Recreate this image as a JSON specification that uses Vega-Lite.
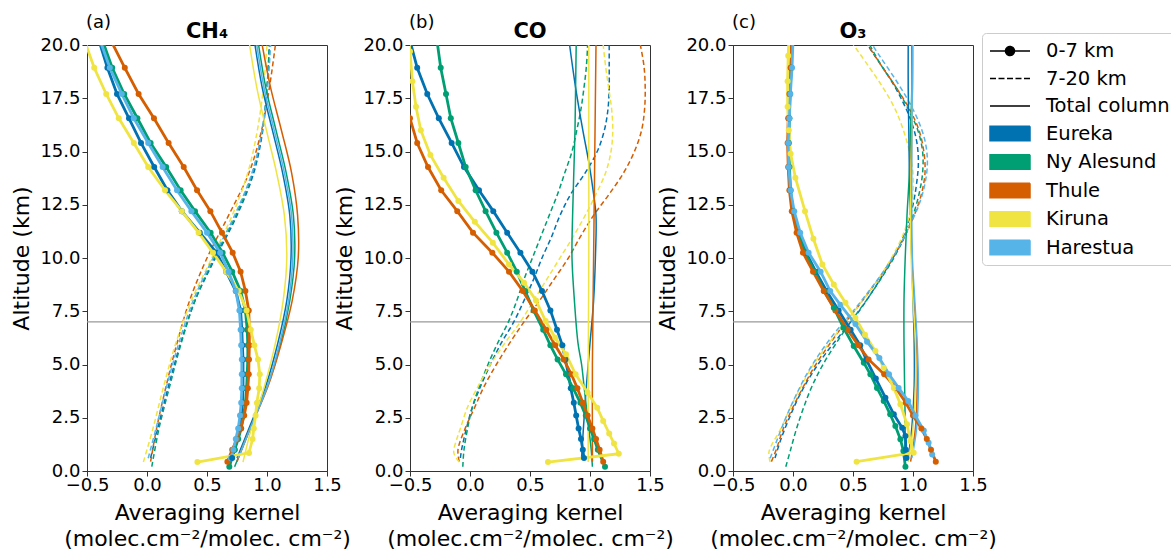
{
"$schema":"https://vega.github.io/schema/vega-lite/v6.json",
"padding":{"left":10,"top":13,"right":0,"bottom":0},
"background":"white",
"spacing":83,
"bounds":"flush",
"config":{
 "font":"DejaVu Sans",
 "view":{"stroke":"#333333","strokeWidth":1},
 "axis":{"labelFontSize":18,"labelColor":"#000000","titleFontSize":22,"titleFontWeight":"normal","titleColor":"#000000","domainColor":"#333333","tickColor":"#333333","tickSize":5,"grid":false,"labelPadding":0,"titleLineHeight":26,"labelFlush":false,"labelOverlap":false},
 "axisX":{"titlePadding":8},
 "axisY":{"titlePadding":6,"labelPadding":2}
},
"datasets":{"d":[
{"p":"a","s":"Eureka","t":"L","a":0.61,"v":0.71},{"p":"a","s":"Eureka","t":"L","a":1.0,"v":0.73},{"p":"a","s":"Eureka","t":"L","a":1.5,"v":0.75},{"p":"a","s":"Eureka","t":"L","a":2.0,"v":0.77},{"p":"a","s":"Eureka","t":"L","a":2.6,"v":0.785},{"p":"a","s":"Eureka","t":"L","a":3.2,"v":0.795},{"p":"a","s":"Eureka","t":"L","a":3.88,"v":0.8},{"p":"a","s":"Eureka","t":"L","a":4.54,"v":0.8},{"p":"a","s":"Eureka","t":"L","a":5.24,"v":0.8},{"p":"a","s":"Eureka","t":"L","a":5.9,"v":0.795},{"p":"a","s":"Eureka","t":"L","a":6.63,"v":0.79},{"p":"a","s":"Eureka","t":"L","a":7.54,"v":0.78},{"p":"a","s":"Eureka","t":"L","a":8.45,"v":0.74},{"p":"a","s":"Eureka","t":"L","a":9.36,"v":0.66},{"p":"a","s":"Eureka","t":"L","a":10.25,"v":0.58},{"p":"a","s":"Eureka","t":"L","a":11.19,"v":0.44},{"p":"a","s":"Eureka","t":"L","a":12.2,"v":0.29},{"p":"a","s":"Eureka","t":"L","a":13.18,"v":0.17},{"p":"a","s":"Eureka","t":"L","a":14.27,"v":0.06},{"p":"a","s":"Eureka","t":"L","a":15.4,"v":-0.05},{"p":"a","s":"Eureka","t":"L","a":16.56,"v":-0.15},{"p":"a","s":"Eureka","t":"L","a":17.7,"v":-0.25},{"p":"a","s":"Eureka","t":"L","a":18.93,"v":-0.33},{"p":"a","s":"Eureka","t":"L","a":20.2,"v":-0.4},
{"p":"a","s":"Ny Alesund","t":"L","a":0.2,"v":0.686},{"p":"a","s":"Ny Alesund","t":"L","a":1.0,"v":0.73},{"p":"a","s":"Ny Alesund","t":"L","a":1.5,"v":0.76},{"p":"a","s":"Ny Alesund","t":"L","a":2.0,"v":0.785},{"p":"a","s":"Ny Alesund","t":"L","a":2.6,"v":0.805},{"p":"a","s":"Ny Alesund","t":"L","a":3.2,"v":0.82},{"p":"a","s":"Ny Alesund","t":"L","a":3.88,"v":0.83},{"p":"a","s":"Ny Alesund","t":"L","a":4.54,"v":0.835},{"p":"a","s":"Ny Alesund","t":"L","a":5.24,"v":0.84},{"p":"a","s":"Ny Alesund","t":"L","a":5.9,"v":0.84},{"p":"a","s":"Ny Alesund","t":"L","a":6.63,"v":0.835},{"p":"a","s":"Ny Alesund","t":"L","a":7.54,"v":0.82},{"p":"a","s":"Ny Alesund","t":"L","a":8.45,"v":0.78},{"p":"a","s":"Ny Alesund","t":"L","a":9.36,"v":0.71},{"p":"a","s":"Ny Alesund","t":"L","a":10.25,"v":0.63},{"p":"a","s":"Ny Alesund","t":"L","a":11.19,"v":0.53},{"p":"a","s":"Ny Alesund","t":"L","a":12.2,"v":0.4},{"p":"a","s":"Ny Alesund","t":"L","a":13.18,"v":0.28},{"p":"a","s":"Ny Alesund","t":"L","a":14.27,"v":0.16},{"p":"a","s":"Ny Alesund","t":"L","a":15.4,"v":0.03},{"p":"a","s":"Ny Alesund","t":"L","a":16.56,"v":-0.08},{"p":"a","s":"Ny Alesund","t":"L","a":17.7,"v":-0.19},{"p":"a","s":"Ny Alesund","t":"L","a":18.93,"v":-0.29},{"p":"a","s":"Ny Alesund","t":"L","a":20.2,"v":-0.37},
{"p":"a","s":"Thule","t":"L","a":0.44,"v":0.67},{"p":"a","s":"Thule","t":"L","a":1.0,"v":0.71},{"p":"a","s":"Thule","t":"L","a":1.5,"v":0.75},{"p":"a","s":"Thule","t":"L","a":2.0,"v":0.78},{"p":"a","s":"Thule","t":"L","a":2.6,"v":0.81},{"p":"a","s":"Thule","t":"L","a":3.2,"v":0.83},{"p":"a","s":"Thule","t":"L","a":3.88,"v":0.84},{"p":"a","s":"Thule","t":"L","a":4.54,"v":0.848},{"p":"a","s":"Thule","t":"L","a":5.24,"v":0.85},{"p":"a","s":"Thule","t":"L","a":5.9,"v":0.853},{"p":"a","s":"Thule","t":"L","a":6.63,"v":0.853},{"p":"a","s":"Thule","t":"L","a":7.54,"v":0.848},{"p":"a","s":"Thule","t":"L","a":8.45,"v":0.82},{"p":"a","s":"Thule","t":"L","a":9.36,"v":0.78},{"p":"a","s":"Thule","t":"L","a":10.25,"v":0.714},{"p":"a","s":"Thule","t":"L","a":11.19,"v":0.625},{"p":"a","s":"Thule","t":"L","a":12.2,"v":0.528},{"p":"a","s":"Thule","t":"L","a":13.18,"v":0.417},{"p":"a","s":"Thule","t":"L","a":14.27,"v":0.306},{"p":"a","s":"Thule","t":"L","a":15.4,"v":0.18},{"p":"a","s":"Thule","t":"L","a":16.56,"v":0.058},{"p":"a","s":"Thule","t":"L","a":17.7,"v":-0.07},{"p":"a","s":"Thule","t":"L","a":18.93,"v":-0.185},{"p":"a","s":"Thule","t":"L","a":20.2,"v":-0.3},
{"p":"a","s":"Kiruna","t":"L","a":0.42,"v":0.42},{"p":"a","s":"Kiruna","t":"L","a":0.85,"v":0.85},{"p":"a","s":"Kiruna","t":"L","a":1.5,"v":0.88},{"p":"a","s":"Kiruna","t":"L","a":2.0,"v":0.89},{"p":"a","s":"Kiruna","t":"L","a":2.6,"v":0.905},{"p":"a","s":"Kiruna","t":"L","a":3.2,"v":0.915},{"p":"a","s":"Kiruna","t":"L","a":3.88,"v":0.935},{"p":"a","s":"Kiruna","t":"L","a":4.54,"v":0.94},{"p":"a","s":"Kiruna","t":"L","a":5.24,"v":0.925},{"p":"a","s":"Kiruna","t":"L","a":5.9,"v":0.895},{"p":"a","s":"Kiruna","t":"L","a":6.63,"v":0.865},{"p":"a","s":"Kiruna","t":"L","a":7.54,"v":0.83},{"p":"a","s":"Kiruna","t":"L","a":8.45,"v":0.764},{"p":"a","s":"Kiruna","t":"L","a":9.36,"v":0.66},{"p":"a","s":"Kiruna","t":"L","a":10.25,"v":0.55},{"p":"a","s":"Kiruna","t":"L","a":11.19,"v":0.43},{"p":"a","s":"Kiruna","t":"L","a":12.2,"v":0.29},{"p":"a","s":"Kiruna","t":"L","a":13.18,"v":0.15},{"p":"a","s":"Kiruna","t":"L","a":14.27,"v":0.01},{"p":"a","s":"Kiruna","t":"L","a":15.4,"v":-0.11},{"p":"a","s":"Kiruna","t":"L","a":16.56,"v":-0.235},{"p":"a","s":"Kiruna","t":"L","a":17.7,"v":-0.34},{"p":"a","s":"Kiruna","t":"L","a":18.93,"v":-0.44},{"p":"a","s":"Kiruna","t":"L","a":20.2,"v":-0.52},
{"p":"a","s":"Harestua","t":"L","a":0.6,"v":0.7},{"p":"a","s":"Harestua","t":"L","a":1.0,"v":0.72},{"p":"a","s":"Harestua","t":"L","a":1.5,"v":0.74},{"p":"a","s":"Harestua","t":"L","a":2.0,"v":0.76},{"p":"a","s":"Harestua","t":"L","a":2.6,"v":0.775},{"p":"a","s":"Harestua","t":"L","a":3.2,"v":0.785},{"p":"a","s":"Harestua","t":"L","a":3.88,"v":0.79},{"p":"a","s":"Harestua","t":"L","a":4.54,"v":0.79},{"p":"a","s":"Harestua","t":"L","a":5.24,"v":0.79},{"p":"a","s":"Harestua","t":"L","a":5.9,"v":0.785},{"p":"a","s":"Harestua","t":"L","a":6.63,"v":0.78},{"p":"a","s":"Harestua","t":"L","a":7.54,"v":0.77},{"p":"a","s":"Harestua","t":"L","a":8.45,"v":0.74},{"p":"a","s":"Harestua","t":"L","a":9.36,"v":0.68},{"p":"a","s":"Harestua","t":"L","a":10.25,"v":0.61},{"p":"a","s":"Harestua","t":"L","a":11.19,"v":0.5},{"p":"a","s":"Harestua","t":"L","a":12.2,"v":0.37},{"p":"a","s":"Harestua","t":"L","a":13.18,"v":0.25},{"p":"a","s":"Harestua","t":"L","a":14.27,"v":0.13},{"p":"a","s":"Harestua","t":"L","a":15.4,"v":0.01},{"p":"a","s":"Harestua","t":"L","a":16.56,"v":-0.11},{"p":"a","s":"Harestua","t":"L","a":17.7,"v":-0.21},{"p":"a","s":"Harestua","t":"L","a":18.93,"v":-0.31},{"p":"a","s":"Harestua","t":"L","a":20.2,"v":-0.39},
{"p":"a","s":"Eureka","t":"H","a":0.61,"v":0.03},{"p":"a","s":"Eureka","t":"H","a":2,"v":0.09},{"p":"a","s":"Eureka","t":"H","a":4,"v":0.18},{"p":"a","s":"Eureka","t":"H","a":6,"v":0.28},{"p":"a","s":"Eureka","t":"H","a":8,"v":0.4},{"p":"a","s":"Eureka","t":"H","a":10,"v":0.57},{"p":"a","s":"Eureka","t":"H","a":12,"v":0.75},{"p":"a","s":"Eureka","t":"H","a":14,"v":0.89},{"p":"a","s":"Eureka","t":"H","a":16,"v":0.965},{"p":"a","s":"Eureka","t":"H","a":18,"v":1.0},{"p":"a","s":"Eureka","t":"H","a":20,"v":1.02},
{"p":"a","s":"Ny Alesund","t":"H","a":0.2,"v":0.04},{"p":"a","s":"Ny Alesund","t":"H","a":2,"v":0.1},{"p":"a","s":"Ny Alesund","t":"H","a":4,"v":0.19},{"p":"a","s":"Ny Alesund","t":"H","a":6,"v":0.285},{"p":"a","s":"Ny Alesund","t":"H","a":8,"v":0.4},{"p":"a","s":"Ny Alesund","t":"H","a":10,"v":0.56},{"p":"a","s":"Ny Alesund","t":"H","a":12,"v":0.74},{"p":"a","s":"Ny Alesund","t":"H","a":14,"v":0.88},{"p":"a","s":"Ny Alesund","t":"H","a":16,"v":0.96},{"p":"a","s":"Ny Alesund","t":"H","a":18,"v":1.0},{"p":"a","s":"Ny Alesund","t":"H","a":20,"v":1.02},
{"p":"a","s":"Thule","t":"H","a":0.44,"v":0.03},{"p":"a","s":"Thule","t":"H","a":2,"v":0.08},{"p":"a","s":"Thule","t":"H","a":4,"v":0.16},{"p":"a","s":"Thule","t":"H","a":6,"v":0.25},{"p":"a","s":"Thule","t":"H","a":8,"v":0.355},{"p":"a","s":"Thule","t":"H","a":10,"v":0.5},{"p":"a","s":"Thule","t":"H","a":12,"v":0.68},{"p":"a","s":"Thule","t":"H","a":14,"v":0.85},{"p":"a","s":"Thule","t":"H","a":16,"v":0.955},{"p":"a","s":"Thule","t":"H","a":18,"v":1.02},{"p":"a","s":"Thule","t":"H","a":20,"v":1.07},
{"p":"a","s":"Kiruna","t":"H","a":0.42,"v":-0.03},{"p":"a","s":"Kiruna","t":"H","a":2,"v":0.05},{"p":"a","s":"Kiruna","t":"H","a":4,"v":0.14},{"p":"a","s":"Kiruna","t":"H","a":6,"v":0.24},{"p":"a","s":"Kiruna","t":"H","a":8,"v":0.37},{"p":"a","s":"Kiruna","t":"H","a":10,"v":0.54},{"p":"a","s":"Kiruna","t":"H","a":12,"v":0.71},{"p":"a","s":"Kiruna","t":"H","a":14,"v":0.84},{"p":"a","s":"Kiruna","t":"H","a":16,"v":0.92},{"p":"a","s":"Kiruna","t":"H","a":18,"v":0.97},{"p":"a","s":"Kiruna","t":"H","a":20,"v":1.0},
{"p":"a","s":"Harestua","t":"H","a":0.6,"v":0.01},{"p":"a","s":"Harestua","t":"H","a":2,"v":0.075},{"p":"a","s":"Harestua","t":"H","a":4,"v":0.165},{"p":"a","s":"Harestua","t":"H","a":6,"v":0.265},{"p":"a","s":"Harestua","t":"H","a":8,"v":0.385},{"p":"a","s":"Harestua","t":"H","a":10,"v":0.55},{"p":"a","s":"Harestua","t":"H","a":12,"v":0.73},{"p":"a","s":"Harestua","t":"H","a":14,"v":0.875},{"p":"a","s":"Harestua","t":"H","a":16,"v":0.96},{"p":"a","s":"Harestua","t":"H","a":18,"v":1.005},{"p":"a","s":"Harestua","t":"H","a":20,"v":1.03},
{"p":"a","s":"Eureka","t":"T","a":0.61,"v":0.75},{"p":"a","s":"Eureka","t":"T","a":2,"v":0.85},{"p":"a","s":"Eureka","t":"T","a":4,"v":0.99},{"p":"a","s":"Eureka","t":"T","a":6,"v":1.09},{"p":"a","s":"Eureka","t":"T","a":8,"v":1.165},{"p":"a","s":"Eureka","t":"T","a":10,"v":1.2},{"p":"a","s":"Eureka","t":"T","a":12,"v":1.19},{"p":"a","s":"Eureka","t":"T","a":14,"v":1.13},{"p":"a","s":"Eureka","t":"T","a":16,"v":1.045},{"p":"a","s":"Eureka","t":"T","a":18,"v":0.96},{"p":"a","s":"Eureka","t":"T","a":20,"v":0.9},
{"p":"a","s":"Ny Alesund","t":"T","a":0.2,"v":0.73},{"p":"a","s":"Ny Alesund","t":"T","a":2,"v":0.86},{"p":"a","s":"Ny Alesund","t":"T","a":4,"v":1.005},{"p":"a","s":"Ny Alesund","t":"T","a":6,"v":1.115},{"p":"a","s":"Ny Alesund","t":"T","a":8,"v":1.19},{"p":"a","s":"Ny Alesund","t":"T","a":10,"v":1.23},{"p":"a","s":"Ny Alesund","t":"T","a":12,"v":1.22},{"p":"a","s":"Ny Alesund","t":"T","a":14,"v":1.16},{"p":"a","s":"Ny Alesund","t":"T","a":16,"v":1.075},{"p":"a","s":"Ny Alesund","t":"T","a":18,"v":0.99},{"p":"a","s":"Ny Alesund","t":"T","a":20,"v":0.93},
{"p":"a","s":"Thule","t":"T","a":0.44,"v":0.75},{"p":"a","s":"Thule","t":"T","a":2,"v":0.86},{"p":"a","s":"Thule","t":"T","a":4,"v":1.01},{"p":"a","s":"Thule","t":"T","a":6,"v":1.12},{"p":"a","s":"Thule","t":"T","a":8,"v":1.21},{"p":"a","s":"Thule","t":"T","a":10,"v":1.26},{"p":"a","s":"Thule","t":"T","a":12,"v":1.255},{"p":"a","s":"Thule","t":"T","a":14,"v":1.205},{"p":"a","s":"Thule","t":"T","a":16,"v":1.12},{"p":"a","s":"Thule","t":"T","a":18,"v":1.03},{"p":"a","s":"Thule","t":"T","a":20,"v":0.96},
{"p":"a","s":"Kiruna","t":"T","a":0.42,"v":0.8},{"p":"a","s":"Kiruna","t":"T","a":2,"v":0.87},{"p":"a","s":"Kiruna","t":"T","a":4,"v":0.98},{"p":"a","s":"Kiruna","t":"T","a":6,"v":1.07},{"p":"a","s":"Kiruna","t":"T","a":8,"v":1.135},{"p":"a","s":"Kiruna","t":"T","a":10,"v":1.165},{"p":"a","s":"Kiruna","t":"T","a":12,"v":1.145},{"p":"a","s":"Kiruna","t":"T","a":14,"v":1.08},{"p":"a","s":"Kiruna","t":"T","a":16,"v":0.995},{"p":"a","s":"Kiruna","t":"T","a":18,"v":0.915},{"p":"a","s":"Kiruna","t":"T","a":20,"v":0.855},
{"p":"a","s":"Harestua","t":"T","a":0.6,"v":0.76},{"p":"a","s":"Harestua","t":"T","a":2,"v":0.86},{"p":"a","s":"Harestua","t":"T","a":4,"v":1.005},{"p":"a","s":"Harestua","t":"T","a":6,"v":1.105},{"p":"a","s":"Harestua","t":"T","a":8,"v":1.18},{"p":"a","s":"Harestua","t":"T","a":10,"v":1.215},{"p":"a","s":"Harestua","t":"T","a":12,"v":1.205},{"p":"a","s":"Harestua","t":"T","a":14,"v":1.145},{"p":"a","s":"Harestua","t":"T","a":16,"v":1.06},{"p":"a","s":"Harestua","t":"T","a":18,"v":0.975},{"p":"a","s":"Harestua","t":"T","a":20,"v":0.915},
{"p":"b","s":"Eureka","t":"L","a":0.61,"v":0.95},{"p":"b","s":"Eureka","t":"L","a":1.0,"v":0.94},{"p":"b","s":"Eureka","t":"L","a":1.5,"v":0.925},{"p":"b","s":"Eureka","t":"L","a":2.0,"v":0.905},{"p":"b","s":"Eureka","t":"L","a":2.6,"v":0.885},{"p":"b","s":"Eureka","t":"L","a":3.2,"v":0.865},{"p":"b","s":"Eureka","t":"L","a":3.88,"v":0.84},{"p":"b","s":"Eureka","t":"L","a":4.54,"v":0.82},{"p":"b","s":"Eureka","t":"L","a":5.24,"v":0.795},{"p":"b","s":"Eureka","t":"L","a":5.9,"v":0.77},{"p":"b","s":"Eureka","t":"L","a":6.63,"v":0.725},{"p":"b","s":"Eureka","t":"L","a":7.54,"v":0.67},{"p":"b","s":"Eureka","t":"L","a":8.45,"v":0.6},{"p":"b","s":"Eureka","t":"L","a":9.36,"v":0.52},{"p":"b","s":"Eureka","t":"L","a":10.25,"v":0.42},{"p":"b","s":"Eureka","t":"L","a":11.19,"v":0.31},{"p":"b","s":"Eureka","t":"L","a":12.2,"v":0.194},{"p":"b","s":"Eureka","t":"L","a":13.18,"v":0.075},{"p":"b","s":"Eureka","t":"L","a":14.27,"v":-0.05},{"p":"b","s":"Eureka","t":"L","a":15.4,"v":-0.153},{"p":"b","s":"Eureka","t":"L","a":16.56,"v":-0.26},{"p":"b","s":"Eureka","t":"L","a":17.7,"v":-0.356},{"p":"b","s":"Eureka","t":"L","a":18.93,"v":-0.44},{"p":"b","s":"Eureka","t":"L","a":20.2,"v":-0.5},
{"p":"b","s":"Ny Alesund","t":"L","a":0.2,"v":1.125},{"p":"b","s":"Ny Alesund","t":"L","a":1.0,"v":1.065},{"p":"b","s":"Ny Alesund","t":"L","a":1.5,"v":1.035},{"p":"b","s":"Ny Alesund","t":"L","a":2.0,"v":1.0},{"p":"b","s":"Ny Alesund","t":"L","a":2.6,"v":0.965},{"p":"b","s":"Ny Alesund","t":"L","a":3.2,"v":0.92},{"p":"b","s":"Ny Alesund","t":"L","a":3.88,"v":0.86},{"p":"b","s":"Ny Alesund","t":"L","a":4.54,"v":0.8},{"p":"b","s":"Ny Alesund","t":"L","a":5.24,"v":0.73},{"p":"b","s":"Ny Alesund","t":"L","a":5.9,"v":0.67},{"p":"b","s":"Ny Alesund","t":"L","a":6.63,"v":0.61},{"p":"b","s":"Ny Alesund","t":"L","a":7.54,"v":0.53},{"p":"b","s":"Ny Alesund","t":"L","a":8.45,"v":0.46},{"p":"b","s":"Ny Alesund","t":"L","a":9.36,"v":0.39},{"p":"b","s":"Ny Alesund","t":"L","a":10.25,"v":0.31},{"p":"b","s":"Ny Alesund","t":"L","a":11.19,"v":0.22},{"p":"b","s":"Ny Alesund","t":"L","a":12.2,"v":0.13},{"p":"b","s":"Ny Alesund","t":"L","a":13.18,"v":0.047},{"p":"b","s":"Ny Alesund","t":"L","a":14.27,"v":-0.036},{"p":"b","s":"Ny Alesund","t":"L","a":15.4,"v":-0.097},{"p":"b","s":"Ny Alesund","t":"L","a":16.56,"v":-0.16},{"p":"b","s":"Ny Alesund","t":"L","a":17.7,"v":-0.2},{"p":"b","s":"Ny Alesund","t":"L","a":18.93,"v":-0.244},{"p":"b","s":"Ny Alesund","t":"L","a":20.2,"v":-0.275},
{"p":"b","s":"Thule","t":"L","a":0.44,"v":1.11},{"p":"b","s":"Thule","t":"L","a":1.0,"v":1.08},{"p":"b","s":"Thule","t":"L","a":1.5,"v":1.05},{"p":"b","s":"Thule","t":"L","a":2.0,"v":1.02},{"p":"b","s":"Thule","t":"L","a":2.6,"v":0.98},{"p":"b","s":"Thule","t":"L","a":3.2,"v":0.94},{"p":"b","s":"Thule","t":"L","a":3.88,"v":0.895},{"p":"b","s":"Thule","t":"L","a":4.54,"v":0.845},{"p":"b","s":"Thule","t":"L","a":5.24,"v":0.78},{"p":"b","s":"Thule","t":"L","a":5.9,"v":0.71},{"p":"b","s":"Thule","t":"L","a":6.63,"v":0.635},{"p":"b","s":"Thule","t":"L","a":7.54,"v":0.54},{"p":"b","s":"Thule","t":"L","a":8.45,"v":0.44},{"p":"b","s":"Thule","t":"L","a":9.36,"v":0.325},{"p":"b","s":"Thule","t":"L","a":10.25,"v":0.186},{"p":"b","s":"Thule","t":"L","a":11.19,"v":0.025},{"p":"b","s":"Thule","t":"L","a":12.2,"v":-0.106},{"p":"b","s":"Thule","t":"L","a":13.18,"v":-0.24},{"p":"b","s":"Thule","t":"L","a":14.27,"v":-0.35},{"p":"b","s":"Thule","t":"L","a":15.4,"v":-0.44},{"p":"b","s":"Thule","t":"L","a":16.56,"v":-0.5},{"p":"b","s":"Thule","t":"L","a":17.7,"v":-0.56},
{"p":"b","s":"Kiruna","t":"L","a":0.42,"v":0.65},{"p":"b","s":"Kiruna","t":"L","a":0.81,"v":1.24},{"p":"b","s":"Kiruna","t":"L","a":1.29,"v":1.2},{"p":"b","s":"Kiruna","t":"L","a":1.76,"v":1.16},{"p":"b","s":"Kiruna","t":"L","a":2.35,"v":1.11},{"p":"b","s":"Kiruna","t":"L","a":2.97,"v":1.06},{"p":"b","s":"Kiruna","t":"L","a":3.68,"v":0.98},{"p":"b","s":"Kiruna","t":"L","a":4.54,"v":0.88},{"p":"b","s":"Kiruna","t":"L","a":5.48,"v":0.8},{"p":"b","s":"Kiruna","t":"L","a":6.26,"v":0.71},{"p":"b","s":"Kiruna","t":"L","a":7.04,"v":0.63},{"p":"b","s":"Kiruna","t":"L","a":8.01,"v":0.55},{"p":"b","s":"Kiruna","t":"L","a":8.84,"v":0.45},{"p":"b","s":"Kiruna","t":"L","a":9.7,"v":0.325},{"p":"b","s":"Kiruna","t":"L","a":10.72,"v":0.19},{"p":"b","s":"Kiruna","t":"L","a":11.7,"v":0.04},{"p":"b","s":"Kiruna","t":"L","a":12.68,"v":-0.097},{"p":"b","s":"Kiruna","t":"L","a":13.77,"v":-0.22},{"p":"b","s":"Kiruna","t":"L","a":14.84,"v":-0.33},{"p":"b","s":"Kiruna","t":"L","a":16.0,"v":-0.41},{"p":"b","s":"Kiruna","t":"L","a":17.1,"v":-0.45},{"p":"b","s":"Kiruna","t":"L","a":18.3,"v":-0.48},{"p":"b","s":"Kiruna","t":"L","a":19.7,"v":-0.5},{"p":"b","s":"Kiruna","t":"L","a":20.2,"v":-0.51},
{"p":"b","s":"Eureka","t":"H","a":0.61,"v":-0.08},{"p":"b","s":"Eureka","t":"H","a":1,"v":-0.07},{"p":"b","s":"Eureka","t":"H","a":2,"v":-0.03},{"p":"b","s":"Eureka","t":"H","a":3,"v":0.02},{"p":"b","s":"Eureka","t":"H","a":4,"v":0.09},{"p":"b","s":"Eureka","t":"H","a":5,"v":0.17},{"p":"b","s":"Eureka","t":"H","a":6,"v":0.26},{"p":"b","s":"Eureka","t":"H","a":7,"v":0.365},{"p":"b","s":"Eureka","t":"H","a":8,"v":0.45},{"p":"b","s":"Eureka","t":"H","a":9,"v":0.53},{"p":"b","s":"Eureka","t":"H","a":10,"v":0.6},{"p":"b","s":"Eureka","t":"H","a":11,"v":0.68},{"p":"b","s":"Eureka","t":"H","a":12,"v":0.75},{"p":"b","s":"Eureka","t":"H","a":13,"v":0.84},{"p":"b","s":"Eureka","t":"H","a":14,"v":0.96},{"p":"b","s":"Eureka","t":"H","a":15,"v":1.06},{"p":"b","s":"Eureka","t":"H","a":16,"v":1.12},{"p":"b","s":"Eureka","t":"H","a":17,"v":1.15},{"p":"b","s":"Eureka","t":"H","a":18,"v":1.16},{"p":"b","s":"Eureka","t":"H","a":19,"v":1.16},{"p":"b","s":"Eureka","t":"H","a":20,"v":1.16},
{"p":"b","s":"Ny Alesund","t":"H","a":0.2,"v":-0.06},{"p":"b","s":"Ny Alesund","t":"H","a":1,"v":-0.05},{"p":"b","s":"Ny Alesund","t":"H","a":2,"v":-0.02},{"p":"b","s":"Ny Alesund","t":"H","a":3,"v":0.02},{"p":"b","s":"Ny Alesund","t":"H","a":4,"v":0.08},{"p":"b","s":"Ny Alesund","t":"H","a":5,"v":0.15},{"p":"b","s":"Ny Alesund","t":"H","a":6,"v":0.23},{"p":"b","s":"Ny Alesund","t":"H","a":7,"v":0.32},{"p":"b","s":"Ny Alesund","t":"H","a":8,"v":0.39},{"p":"b","s":"Ny Alesund","t":"H","a":9,"v":0.45},{"p":"b","s":"Ny Alesund","t":"H","a":10,"v":0.52},{"p":"b","s":"Ny Alesund","t":"H","a":11,"v":0.59},{"p":"b","s":"Ny Alesund","t":"H","a":12,"v":0.66},{"p":"b","s":"Ny Alesund","t":"H","a":13,"v":0.73},{"p":"b","s":"Ny Alesund","t":"H","a":14,"v":0.79},{"p":"b","s":"Ny Alesund","t":"H","a":15,"v":0.85},{"p":"b","s":"Ny Alesund","t":"H","a":16,"v":0.89},{"p":"b","s":"Ny Alesund","t":"H","a":17,"v":0.925},{"p":"b","s":"Ny Alesund","t":"H","a":18,"v":0.95},{"p":"b","s":"Ny Alesund","t":"H","a":19,"v":0.97},{"p":"b","s":"Ny Alesund","t":"H","a":20,"v":0.98},
{"p":"b","s":"Thule","t":"H","a":0.44,"v":-0.09},{"p":"b","s":"Thule","t":"H","a":1,"v":-0.1},{"p":"b","s":"Thule","t":"H","a":2,"v":-0.04},{"p":"b","s":"Thule","t":"H","a":3,"v":0.04},{"p":"b","s":"Thule","t":"H","a":4,"v":0.12},{"p":"b","s":"Thule","t":"H","a":5,"v":0.22},{"p":"b","s":"Thule","t":"H","a":6,"v":0.33},{"p":"b","s":"Thule","t":"H","a":7,"v":0.45},{"p":"b","s":"Thule","t":"H","a":8,"v":0.58},{"p":"b","s":"Thule","t":"H","a":9,"v":0.7},{"p":"b","s":"Thule","t":"H","a":10,"v":0.82},{"p":"b","s":"Thule","t":"H","a":11,"v":0.92},{"p":"b","s":"Thule","t":"H","a":12,"v":1.03},{"p":"b","s":"Thule","t":"H","a":13,"v":1.16},{"p":"b","s":"Thule","t":"H","a":14,"v":1.28},{"p":"b","s":"Thule","t":"H","a":15,"v":1.37},{"p":"b","s":"Thule","t":"H","a":16,"v":1.43},{"p":"b","s":"Thule","t":"H","a":17,"v":1.455},{"p":"b","s":"Thule","t":"H","a":18,"v":1.46},{"p":"b","s":"Thule","t":"H","a":19,"v":1.45},{"p":"b","s":"Thule","t":"H","a":20,"v":1.42},
{"p":"b","s":"Kiruna","t":"H","a":0.42,"v":-0.09},{"p":"b","s":"Kiruna","t":"H","a":0.86,"v":-0.135},{"p":"b","s":"Kiruna","t":"H","a":1.5,"v":-0.11},{"p":"b","s":"Kiruna","t":"H","a":2,"v":-0.08},{"p":"b","s":"Kiruna","t":"H","a":3,"v":-0.02},{"p":"b","s":"Kiruna","t":"H","a":4,"v":0.07},{"p":"b","s":"Kiruna","t":"H","a":5,"v":0.17},{"p":"b","s":"Kiruna","t":"H","a":6,"v":0.29},{"p":"b","s":"Kiruna","t":"H","a":7,"v":0.42},{"p":"b","s":"Kiruna","t":"H","a":8,"v":0.53},{"p":"b","s":"Kiruna","t":"H","a":9,"v":0.64},{"p":"b","s":"Kiruna","t":"H","a":10,"v":0.75},{"p":"b","s":"Kiruna","t":"H","a":11,"v":0.86},{"p":"b","s":"Kiruna","t":"H","a":12,"v":0.96},{"p":"b","s":"Kiruna","t":"H","a":13,"v":1.05},{"p":"b","s":"Kiruna","t":"H","a":14,"v":1.13},{"p":"b","s":"Kiruna","t":"H","a":15,"v":1.175},{"p":"b","s":"Kiruna","t":"H","a":16,"v":1.19},{"p":"b","s":"Kiruna","t":"H","a":17,"v":1.18},{"p":"b","s":"Kiruna","t":"H","a":18,"v":1.155},{"p":"b","s":"Kiruna","t":"H","a":19,"v":1.13},{"p":"b","s":"Kiruna","t":"H","a":20,"v":1.11},
{"p":"b","s":"Eureka","t":"T","a":0.61,"v":0.93},{"p":"b","s":"Eureka","t":"T","a":2,"v":0.945},{"p":"b","s":"Eureka","t":"T","a":4,"v":0.97},{"p":"b","s":"Eureka","t":"T","a":6,"v":1.0},{"p":"b","s":"Eureka","t":"T","a":8,"v":1.03},{"p":"b","s":"Eureka","t":"T","a":10,"v":1.045},{"p":"b","s":"Eureka","t":"T","a":12,"v":1.05},{"p":"b","s":"Eureka","t":"T","a":13,"v":1.03},{"p":"b","s":"Eureka","t":"T","a":14.5,"v":0.99},{"p":"b","s":"Eureka","t":"T","a":16,"v":0.94},{"p":"b","s":"Eureka","t":"T","a":18,"v":0.88},{"p":"b","s":"Eureka","t":"T","a":20,"v":0.83},
{"p":"b","s":"Ny Alesund","t":"T","a":0.2,"v":1.02},{"p":"b","s":"Ny Alesund","t":"T","a":1,"v":1.01},{"p":"b","s":"Ny Alesund","t":"T","a":2,"v":0.99},{"p":"b","s":"Ny Alesund","t":"T","a":3,"v":0.97},{"p":"b","s":"Ny Alesund","t":"T","a":4,"v":0.95},{"p":"b","s":"Ny Alesund","t":"T","a":5,"v":0.93},{"p":"b","s":"Ny Alesund","t":"T","a":6,"v":0.9},{"p":"b","s":"Ny Alesund","t":"T","a":8,"v":0.87},{"p":"b","s":"Ny Alesund","t":"T","a":10,"v":0.85},{"p":"b","s":"Ny Alesund","t":"T","a":12,"v":0.855},{"p":"b","s":"Ny Alesund","t":"T","a":14,"v":0.865},{"p":"b","s":"Ny Alesund","t":"T","a":16,"v":0.875},{"p":"b","s":"Ny Alesund","t":"T","a":18,"v":0.88},{"p":"b","s":"Ny Alesund","t":"T","a":20,"v":0.885},
{"p":"b","s":"Thule","t":"T","a":0.44,"v":1.02},{"p":"b","s":"Thule","t":"T","a":5,"v":1.02},{"p":"b","s":"Thule","t":"T","a":10,"v":1.03},{"p":"b","s":"Thule","t":"T","a":15,"v":1.04},{"p":"b","s":"Thule","t":"T","a":20,"v":1.05},
{"p":"b","s":"Kiruna","t":"T","a":0.42,"v":0.985},{"p":"b","s":"Kiruna","t":"T","a":5,"v":0.985},{"p":"b","s":"Kiruna","t":"T","a":10,"v":0.99},{"p":"b","s":"Kiruna","t":"T","a":15,"v":0.99},{"p":"b","s":"Kiruna","t":"T","a":20,"v":0.99},
{"p":"c","s":"Eureka","t":"L","a":0.61,"v":0.945},{"p":"c","s":"Eureka","t":"L","a":1.0,"v":0.94},{"p":"c","s":"Eureka","t":"L","a":1.64,"v":0.937},{"p":"c","s":"Eureka","t":"L","a":2.03,"v":0.91},{"p":"c","s":"Eureka","t":"L","a":2.66,"v":0.84},{"p":"c","s":"Eureka","t":"L","a":3.44,"v":0.77},{"p":"c","s":"Eureka","t":"L","a":4.34,"v":0.69},{"p":"c","s":"Eureka","t":"L","a":5.24,"v":0.61},{"p":"c","s":"Eureka","t":"L","a":5.9,"v":0.56},{"p":"c","s":"Eureka","t":"L","a":6.63,"v":0.48},{"p":"c","s":"Eureka","t":"L","a":7.54,"v":0.38},{"p":"c","s":"Eureka","t":"L","a":8.45,"v":0.28},{"p":"c","s":"Eureka","t":"L","a":9.36,"v":0.19},{"p":"c","s":"Eureka","t":"L","a":10.25,"v":0.11},{"p":"c","s":"Eureka","t":"L","a":11.19,"v":0.05},{"p":"c","s":"Eureka","t":"L","a":12.2,"v":0.0},{"p":"c","s":"Eureka","t":"L","a":13.18,"v":-0.025},{"p":"c","s":"Eureka","t":"L","a":14.27,"v":-0.035},{"p":"c","s":"Eureka","t":"L","a":15.4,"v":-0.04},{"p":"c","s":"Eureka","t":"L","a":16.56,"v":-0.035},{"p":"c","s":"Eureka","t":"L","a":17.7,"v":-0.025},{"p":"c","s":"Eureka","t":"L","a":18.93,"v":-0.015},{"p":"c","s":"Eureka","t":"L","a":20.2,"v":-0.01},
{"p":"c","s":"Ny Alesund","t":"L","a":0.2,"v":0.937},{"p":"c","s":"Ny Alesund","t":"L","a":0.94,"v":0.92},{"p":"c","s":"Ny Alesund","t":"L","a":1.49,"v":0.895},{"p":"c","s":"Ny Alesund","t":"L","a":2.11,"v":0.853},{"p":"c","s":"Ny Alesund","t":"L","a":2.66,"v":0.81},{"p":"c","s":"Ny Alesund","t":"L","a":3.29,"v":0.756},{"p":"c","s":"Ny Alesund","t":"L","a":3.9,"v":0.7},{"p":"c","s":"Ny Alesund","t":"L","a":4.54,"v":0.645},{"p":"c","s":"Ny Alesund","t":"L","a":5.08,"v":0.59},{"p":"c","s":"Ny Alesund","t":"L","a":5.87,"v":0.506},{"p":"c","s":"Ny Alesund","t":"L","a":6.73,"v":0.42},{"p":"c","s":"Ny Alesund","t":"L","a":7.67,"v":0.34},{"p":"c","s":"Ny Alesund","t":"L","a":8.45,"v":0.26},{"p":"c","s":"Ny Alesund","t":"L","a":9.36,"v":0.18},{"p":"c","s":"Ny Alesund","t":"L","a":10.25,"v":0.1},{"p":"c","s":"Ny Alesund","t":"L","a":11.19,"v":0.04},{"p":"c","s":"Ny Alesund","t":"L","a":12.2,"v":0.0},{"p":"c","s":"Ny Alesund","t":"L","a":13.18,"v":-0.02},{"p":"c","s":"Ny Alesund","t":"L","a":14.27,"v":-0.03},{"p":"c","s":"Ny Alesund","t":"L","a":15.4,"v":-0.035},{"p":"c","s":"Ny Alesund","t":"L","a":16.56,"v":-0.03},{"p":"c","s":"Ny Alesund","t":"L","a":17.7,"v":-0.025},{"p":"c","s":"Ny Alesund","t":"L","a":18.93,"v":-0.015},{"p":"c","s":"Ny Alesund","t":"L","a":20.2,"v":-0.01},
{"p":"c","s":"Thule","t":"L","a":0.44,"v":1.19},{"p":"c","s":"Thule","t":"L","a":1.0,"v":1.15},{"p":"c","s":"Thule","t":"L","a":1.5,"v":1.115},{"p":"c","s":"Thule","t":"L","a":2.0,"v":1.07},{"p":"c","s":"Thule","t":"L","a":2.6,"v":1.0},{"p":"c","s":"Thule","t":"L","a":3.2,"v":0.94},{"p":"c","s":"Thule","t":"L","a":3.88,"v":0.86},{"p":"c","s":"Thule","t":"L","a":4.54,"v":0.76},{"p":"c","s":"Thule","t":"L","a":5.24,"v":0.63},{"p":"c","s":"Thule","t":"L","a":5.9,"v":0.545},{"p":"c","s":"Thule","t":"L","a":6.63,"v":0.455},{"p":"c","s":"Thule","t":"L","a":7.54,"v":0.353},{"p":"c","s":"Thule","t":"L","a":8.45,"v":0.256},{"p":"c","s":"Thule","t":"L","a":9.36,"v":0.167},{"p":"c","s":"Thule","t":"L","a":10.25,"v":0.083},{"p":"c","s":"Thule","t":"L","a":11.19,"v":0.03},{"p":"c","s":"Thule","t":"L","a":12.2,"v":-0.01},{"p":"c","s":"Thule","t":"L","a":13.18,"v":-0.03},{"p":"c","s":"Thule","t":"L","a":14.27,"v":-0.04},{"p":"c","s":"Thule","t":"L","a":15.4,"v":-0.045},{"p":"c","s":"Thule","t":"L","a":16.56,"v":-0.04},{"p":"c","s":"Thule","t":"L","a":17.7,"v":-0.03},{"p":"c","s":"Thule","t":"L","a":18.93,"v":-0.02},{"p":"c","s":"Thule","t":"L","a":20.2,"v":-0.01},
{"p":"c","s":"Kiruna","t":"L","a":0.44,"v":0.53},{"p":"c","s":"Kiruna","t":"L","a":0.86,"v":1.006},{"p":"c","s":"Kiruna","t":"L","a":1.41,"v":0.978},{"p":"c","s":"Kiruna","t":"L","a":2.19,"v":0.95},{"p":"c","s":"Kiruna","t":"L","a":3.13,"v":0.895},{"p":"c","s":"Kiruna","t":"L","a":3.9,"v":0.84},{"p":"c","s":"Kiruna","t":"L","a":4.85,"v":0.756},{"p":"c","s":"Kiruna","t":"L","a":5.63,"v":0.687},{"p":"c","s":"Kiruna","t":"L","a":6.4,"v":0.6},{"p":"c","s":"Kiruna","t":"L","a":7.2,"v":0.52},{"p":"c","s":"Kiruna","t":"L","a":7.9,"v":0.437},{"p":"c","s":"Kiruna","t":"L","a":8.76,"v":0.34},{"p":"c","s":"Kiruna","t":"L","a":9.7,"v":0.245},{"p":"c","s":"Kiruna","t":"L","a":10.9,"v":0.17},{"p":"c","s":"Kiruna","t":"L","a":12.2,"v":0.1},{"p":"c","s":"Kiruna","t":"L","a":13.77,"v":0.02},{"p":"c","s":"Kiruna","t":"L","a":14.9,"v":-0.02},{"p":"c","s":"Kiruna","t":"L","a":16.0,"v":-0.035},{"p":"c","s":"Kiruna","t":"L","a":17.1,"v":-0.045},{"p":"c","s":"Kiruna","t":"L","a":18.3,"v":-0.045},{"p":"c","s":"Kiruna","t":"L","a":19.5,"v":-0.04},{"p":"c","s":"Kiruna","t":"L","a":20.2,"v":-0.035},
{"p":"c","s":"Harestua","t":"L","a":0.78,"v":1.16},{"p":"c","s":"Harestua","t":"L","a":1.33,"v":1.13},{"p":"c","s":"Harestua","t":"L","a":1.9,"v":1.09},{"p":"c","s":"Harestua","t":"L","a":2.6,"v":1.02},{"p":"c","s":"Harestua","t":"L","a":3.29,"v":0.96},{"p":"c","s":"Harestua","t":"L","a":3.9,"v":0.88},{"p":"c","s":"Harestua","t":"L","a":4.54,"v":0.8},{"p":"c","s":"Harestua","t":"L","a":5.3,"v":0.72},{"p":"c","s":"Harestua","t":"L","a":6.07,"v":0.617},{"p":"c","s":"Harestua","t":"L","a":6.9,"v":0.52},{"p":"c","s":"Harestua","t":"L","a":7.8,"v":0.395},{"p":"c","s":"Harestua","t":"L","a":8.45,"v":0.31},{"p":"c","s":"Harestua","t":"L","a":9.36,"v":0.23},{"p":"c","s":"Harestua","t":"L","a":10.25,"v":0.13},{"p":"c","s":"Harestua","t":"L","a":11.19,"v":0.06},{"p":"c","s":"Harestua","t":"L","a":12.2,"v":0.01},{"p":"c","s":"Harestua","t":"L","a":13.18,"v":-0.02},{"p":"c","s":"Harestua","t":"L","a":14.27,"v":-0.035},{"p":"c","s":"Harestua","t":"L","a":15.4,"v":-0.04},{"p":"c","s":"Harestua","t":"L","a":16.56,"v":-0.03},{"p":"c","s":"Harestua","t":"L","a":17.7,"v":-0.022},{"p":"c","s":"Harestua","t":"L","a":18.93,"v":-0.008},{"p":"c","s":"Harestua","t":"L","a":20.2,"v":0.0},
{"p":"c","s":"Eureka","t":"H","a":0.61,"v":-0.15},{"p":"c","s":"Eureka","t":"H","a":1.5,"v":-0.1},{"p":"c","s":"Eureka","t":"H","a":2.5,"v":-0.03},{"p":"c","s":"Eureka","t":"H","a":3.5,"v":0.05},{"p":"c","s":"Eureka","t":"H","a":4.5,"v":0.15},{"p":"c","s":"Eureka","t":"H","a":5.5,"v":0.27},{"p":"c","s":"Eureka","t":"H","a":6.5,"v":0.41},{"p":"c","s":"Eureka","t":"H","a":7.5,"v":0.55},{"p":"c","s":"Eureka","t":"H","a":8.5,"v":0.67},{"p":"c","s":"Eureka","t":"H","a":9.5,"v":0.78},{"p":"c","s":"Eureka","t":"H","a":10.5,"v":0.88},{"p":"c","s":"Eureka","t":"H","a":11.5,"v":0.95},{"p":"c","s":"Eureka","t":"H","a":12.5,"v":1.0},{"p":"c","s":"Eureka","t":"H","a":13.5,"v":1.03},{"p":"c","s":"Eureka","t":"H","a":14.5,"v":1.045},{"p":"c","s":"Eureka","t":"H","a":15.5,"v":1.03},{"p":"c","s":"Eureka","t":"H","a":16.5,"v":0.98},{"p":"c","s":"Eureka","t":"H","a":17.5,"v":0.9},{"p":"c","s":"Eureka","t":"H","a":18.5,"v":0.8},{"p":"c","s":"Eureka","t":"H","a":19.5,"v":0.68},{"p":"c","s":"Eureka","t":"H","a":20.2,"v":0.6},
{"p":"c","s":"Ny Alesund","t":"H","a":0.2,"v":-0.06},{"p":"c","s":"Ny Alesund","t":"H","a":1,"v":-0.02},{"p":"c","s":"Ny Alesund","t":"H","a":2,"v":0.03},{"p":"c","s":"Ny Alesund","t":"H","a":3,"v":0.09},{"p":"c","s":"Ny Alesund","t":"H","a":4,"v":0.16},{"p":"c","s":"Ny Alesund","t":"H","a":5,"v":0.25},{"p":"c","s":"Ny Alesund","t":"H","a":6,"v":0.36},{"p":"c","s":"Ny Alesund","t":"H","a":7,"v":0.48},{"p":"c","s":"Ny Alesund","t":"H","a":8,"v":0.61},{"p":"c","s":"Ny Alesund","t":"H","a":9,"v":0.73},{"p":"c","s":"Ny Alesund","t":"H","a":10,"v":0.84},{"p":"c","s":"Ny Alesund","t":"H","a":11,"v":0.93},{"p":"c","s":"Ny Alesund","t":"H","a":12,"v":1.0},{"p":"c","s":"Ny Alesund","t":"H","a":13,"v":1.05},{"p":"c","s":"Ny Alesund","t":"H","a":14,"v":1.08},{"p":"c","s":"Ny Alesund","t":"H","a":15,"v":1.08},{"p":"c","s":"Ny Alesund","t":"H","a":16,"v":1.04},{"p":"c","s":"Ny Alesund","t":"H","a":17,"v":0.96},{"p":"c","s":"Ny Alesund","t":"H","a":18,"v":0.86},{"p":"c","s":"Ny Alesund","t":"H","a":19,"v":0.74},{"p":"c","s":"Ny Alesund","t":"H","a":20.2,"v":0.62},
{"p":"c","s":"Thule","t":"H","a":0.44,"v":-0.18},{"p":"c","s":"Thule","t":"H","a":1,"v":-0.14},{"p":"c","s":"Thule","t":"H","a":2,"v":-0.08},{"p":"c","s":"Thule","t":"H","a":3,"v":0.0},{"p":"c","s":"Thule","t":"H","a":4,"v":0.09},{"p":"c","s":"Thule","t":"H","a":5,"v":0.19},{"p":"c","s":"Thule","t":"H","a":6,"v":0.31},{"p":"c","s":"Thule","t":"H","a":7,"v":0.44},{"p":"c","s":"Thule","t":"H","a":8,"v":0.58},{"p":"c","s":"Thule","t":"H","a":9,"v":0.71},{"p":"c","s":"Thule","t":"H","a":10,"v":0.83},{"p":"c","s":"Thule","t":"H","a":11,"v":0.93},{"p":"c","s":"Thule","t":"H","a":12,"v":1.01},{"p":"c","s":"Thule","t":"H","a":13,"v":1.07},{"p":"c","s":"Thule","t":"H","a":14,"v":1.1},{"p":"c","s":"Thule","t":"H","a":15,"v":1.09},{"p":"c","s":"Thule","t":"H","a":16,"v":1.05},{"p":"c","s":"Thule","t":"H","a":17,"v":0.97},{"p":"c","s":"Thule","t":"H","a":18,"v":0.86},{"p":"c","s":"Thule","t":"H","a":19,"v":0.74},{"p":"c","s":"Thule","t":"H","a":20.2,"v":0.6},
{"p":"c","s":"Kiruna","t":"H","a":0.42,"v":-0.19},{"p":"c","s":"Kiruna","t":"H","a":0.9,"v":-0.2},{"p":"c","s":"Kiruna","t":"H","a":2,"v":-0.1},{"p":"c","s":"Kiruna","t":"H","a":3,"v":-0.02},{"p":"c","s":"Kiruna","t":"H","a":4,"v":0.07},{"p":"c","s":"Kiruna","t":"H","a":5,"v":0.17},{"p":"c","s":"Kiruna","t":"H","a":6,"v":0.3},{"p":"c","s":"Kiruna","t":"H","a":7,"v":0.44},{"p":"c","s":"Kiruna","t":"H","a":8,"v":0.58},{"p":"c","s":"Kiruna","t":"H","a":9,"v":0.71},{"p":"c","s":"Kiruna","t":"H","a":10,"v":0.82},{"p":"c","s":"Kiruna","t":"H","a":11,"v":0.91},{"p":"c","s":"Kiruna","t":"H","a":12,"v":0.97},{"p":"c","s":"Kiruna","t":"H","a":13,"v":1.0},{"p":"c","s":"Kiruna","t":"H","a":14,"v":1.0},{"p":"c","s":"Kiruna","t":"H","a":15,"v":0.97},{"p":"c","s":"Kiruna","t":"H","a":16,"v":0.92},{"p":"c","s":"Kiruna","t":"H","a":17,"v":0.85},{"p":"c","s":"Kiruna","t":"H","a":18,"v":0.75},{"p":"c","s":"Kiruna","t":"H","a":19,"v":0.63},{"p":"c","s":"Kiruna","t":"H","a":20.2,"v":0.48},
{"p":"c","s":"Harestua","t":"H","a":0.6,"v":-0.19},{"p":"c","s":"Harestua","t":"H","a":1.5,"v":-0.13},{"p":"c","s":"Harestua","t":"H","a":2.5,"v":-0.06},{"p":"c","s":"Harestua","t":"H","a":3.5,"v":0.02},{"p":"c","s":"Harestua","t":"H","a":4.5,"v":0.11},{"p":"c","s":"Harestua","t":"H","a":5.5,"v":0.22},{"p":"c","s":"Harestua","t":"H","a":6.5,"v":0.35},{"p":"c","s":"Harestua","t":"H","a":7.5,"v":0.5},{"p":"c","s":"Harestua","t":"H","a":8.5,"v":0.64},{"p":"c","s":"Harestua","t":"H","a":9.5,"v":0.77},{"p":"c","s":"Harestua","t":"H","a":10.5,"v":0.88},{"p":"c","s":"Harestua","t":"H","a":11.5,"v":0.97},{"p":"c","s":"Harestua","t":"H","a":12.5,"v":1.05},{"p":"c","s":"Harestua","t":"H","a":13.5,"v":1.1},{"p":"c","s":"Harestua","t":"H","a":14.5,"v":1.12},{"p":"c","s":"Harestua","t":"H","a":15.5,"v":1.1},{"p":"c","s":"Harestua","t":"H","a":16.5,"v":1.04},{"p":"c","s":"Harestua","t":"H","a":17.5,"v":0.95},{"p":"c","s":"Harestua","t":"H","a":18.5,"v":0.84},{"p":"c","s":"Harestua","t":"H","a":19.5,"v":0.72},{"p":"c","s":"Harestua","t":"H","a":20.2,"v":0.64},
{"p":"c","s":"Eureka","t":"T","a":0.61,"v":0.96},{"p":"c","s":"Eureka","t":"T","a":2,"v":0.99},{"p":"c","s":"Eureka","t":"T","a":4,"v":1.01},{"p":"c","s":"Eureka","t":"T","a":6,"v":1.01},{"p":"c","s":"Eureka","t":"T","a":8,"v":1.0},{"p":"c","s":"Eureka","t":"T","a":10,"v":0.99},{"p":"c","s":"Eureka","t":"T","a":12,"v":0.98},{"p":"c","s":"Eureka","t":"T","a":14,"v":0.97},{"p":"c","s":"Eureka","t":"T","a":16,"v":0.965},{"p":"c","s":"Eureka","t":"T","a":18,"v":0.96},{"p":"c","s":"Eureka","t":"T","a":20,"v":0.96},
{"p":"c","s":"Ny Alesund","t":"T","a":0.2,"v":0.93},{"p":"c","s":"Ny Alesund","t":"T","a":2,"v":0.935},{"p":"c","s":"Ny Alesund","t":"T","a":4,"v":0.93},{"p":"c","s":"Ny Alesund","t":"T","a":6,"v":0.925},{"p":"c","s":"Ny Alesund","t":"T","a":8,"v":0.925},{"p":"c","s":"Ny Alesund","t":"T","a":10,"v":0.935},{"p":"c","s":"Ny Alesund","t":"T","a":12,"v":0.95},{"p":"c","s":"Ny Alesund","t":"T","a":14,"v":0.97},{"p":"c","s":"Ny Alesund","t":"T","a":16,"v":0.98},{"p":"c","s":"Ny Alesund","t":"T","a":18,"v":0.99},{"p":"c","s":"Ny Alesund","t":"T","a":20,"v":0.99},
{"p":"c","s":"Thule","t":"T","a":0.44,"v":0.98},{"p":"c","s":"Thule","t":"T","a":2,"v":1.02},{"p":"c","s":"Thule","t":"T","a":4,"v":1.035},{"p":"c","s":"Thule","t":"T","a":6,"v":1.03},{"p":"c","s":"Thule","t":"T","a":8,"v":1.01},{"p":"c","s":"Thule","t":"T","a":10,"v":0.99},{"p":"c","s":"Thule","t":"T","a":12,"v":0.985},{"p":"c","s":"Thule","t":"T","a":14,"v":0.985},{"p":"c","s":"Thule","t":"T","a":16,"v":0.99},{"p":"c","s":"Thule","t":"T","a":18,"v":0.995},{"p":"c","s":"Thule","t":"T","a":20,"v":1.0},
{"p":"c","s":"Kiruna","t":"T","a":0.42,"v":0.96},{"p":"c","s":"Kiruna","t":"T","a":2,"v":1.0},{"p":"c","s":"Kiruna","t":"T","a":4,"v":1.02},{"p":"c","s":"Kiruna","t":"T","a":6,"v":1.02},{"p":"c","s":"Kiruna","t":"T","a":8,"v":1.0},{"p":"c","s":"Kiruna","t":"T","a":10,"v":0.985},{"p":"c","s":"Kiruna","t":"T","a":12,"v":0.98},{"p":"c","s":"Kiruna","t":"T","a":14,"v":0.985},{"p":"c","s":"Kiruna","t":"T","a":16,"v":0.99},{"p":"c","s":"Kiruna","t":"T","a":18,"v":0.995},{"p":"c","s":"Kiruna","t":"T","a":20,"v":1.0},
{"p":"c","s":"Harestua","t":"T","a":0.6,"v":0.99},{"p":"c","s":"Harestua","t":"T","a":2,"v":1.03},{"p":"c","s":"Harestua","t":"T","a":4,"v":1.045},{"p":"c","s":"Harestua","t":"T","a":6,"v":1.035},{"p":"c","s":"Harestua","t":"T","a":8,"v":1.015},{"p":"c","s":"Harestua","t":"T","a":10,"v":0.995},{"p":"c","s":"Harestua","t":"T","a":12,"v":0.99},{"p":"c","s":"Harestua","t":"T","a":14,"v":0.99},{"p":"c","s":"Harestua","t":"T","a":16,"v":0.99},{"p":"c","s":"Harestua","t":"T","a":18,"v":0.995},{"p":"c","s":"Harestua","t":"T","a":20,"v":0.995}
]},
"hconcat":[
{"width":240,"height":426,
 "layer":[
  {"data":{"values":[{"k":7}]},"mark":{"type":"rule","color":"#999999","strokeWidth":1.3},"encoding":{"y":{"field":"k","type":"quantitative","scale":{"domain":[0,20]},"axis":{"values":[0,2.5,5,7.5,10,12.5,15,17.5,20],"format":".1f","title":"Altitude (km)"}}}},
  {"data":{"name":"d"},"transform":[{"filter":"datum.p==='a' && datum.t==='H'"}],"mark":{"type":"line","strokeDash":[5,3],"strokeWidth":1.5,"clip":true,"interpolate":"catmull-rom"},
   "encoding":{
    "x":{"field":"v","type":"quantitative","scale":{"domain":[-0.5,1.5]},"axis":{"values":[-0.5,0,0.5,1,1.5],"format":".1f","title":["Averaging kernel","(molec.cm⁻²/molec. cm⁻²)"]}},
    "y":{"field":"a","type":"quantitative","scale":{"domain":[0,20]},"axis":{"values":[0,2.5,5,7.5,10,12.5,15,17.5,20],"format":".1f","title":"Altitude (km)"}},
    "color":{"field":"s","type":"nominal","scale":{"domain":["0-7 km","7-20 km","Total column","Eureka","Ny Alesund","Thule","Kiruna","Harestua"],"range":["#000000","#000000","#000000","#0072B2","#009E73","#D55E00","#F0E442","#56B4E9"]},
     "legend":{"orient":"none","legendX":895,"legendY":-12,"title":null,"padding":7,"strokeColor":"#cccccc","fillColor":"#ffffff","cornerRadius":4,"labelFontSize":19.5,"labelFont":"DejaVu Sans","labelColor":"#000000","symbolSize":400,"rowPadding":6.5,"labelOffset":25,"symbolOffset":10,
      "encode":{"symbols":{"update":{
       "shape":{"signal":"datum.value==='0-7 km' ? 'M-2,0H2M-0.45,0A0.45,0.45 0 1,0 0.45,0A0.45,0.45 0 1,0 -0.45,0' : datum.value==='7-20 km' ? 'M-2,0H-1.4M-1.15,0H-0.55M-0.3,0H0.3M0.55,0H1.15M1.4,0H2' : datum.value==='Total column' ? 'M-2,0H2' : 'M-2,-0.72H2V0.72H-2Z'"},
       "fill":{"scale":"color","field":"value"},
       "stroke":{"scale":"color","field":"value"},
       "strokeWidth":{"value":1.5},
       "strokeDash":{"value":[1,0]},
       "opacity":{"value":1}}}}}},
    "order":{"field":"a","type":"quantitative"}}},
  {"data":{"name":"d"},"transform":[{"filter":"datum.p==='a' && datum.t==='T'"}],"mark":{"type":"line","strokeWidth":1.5,"clip":true,"interpolate":"catmull-rom"},
   "encoding":{"x":{"field":"v","type":"quantitative","scale":{"domain":[-0.5,1.5]}},"y":{"field":"a","type":"quantitative","scale":{"domain":[0,20]}},"color":{"field":"s","type":"nominal"},"order":{"field":"a","type":"quantitative"}}},
  {"data":{"name":"d"},"transform":[{"filter":"datum.p==='a' && datum.t==='L'"}],"mark":{"type":"line","strokeWidth":2.8,"clip":true,"point":{"filled":true,"size":36,"clip":true}},
   "encoding":{"x":{"field":"v","type":"quantitative","scale":{"domain":[-0.5,1.5]}},"y":{"field":"a","type":"quantitative","scale":{"domain":[0,20]}},"color":{"field":"s","type":"nominal"},"order":{"field":"a","type":"quantitative"}}},
  {"data":{"values":[{"lab":"(a)"}]},"mark":{"type":"text","align":"left","baseline":"alphabetic","dy":-17,"dx":-1,"fontSize":18,"color":"#000000"},"encoding":{"x":{"datum":-0.5,"type":"quantitative","scale":{"domain":[-0.5,1.5]}},"y":{"datum":20,"type":"quantitative","scale":{"domain":[0,20]}},"text":{"field":"lab"}}},
  {"data":{"values":[{"lab":"CH₄"}]},"mark":{"type":"text","align":"center","baseline":"alphabetic","dy":-7,"fontSize":21,"fontWeight":"bold","color":"#000000"},"encoding":{"x":{"datum":0.5,"type":"quantitative","scale":{"domain":[-0.5,1.5]}},"y":{"datum":20,"type":"quantitative","scale":{"domain":[0,20]}},"text":{"field":"lab"}}}
 ]},
{"width":240,"height":426,
 "layer":[
  {"data":{"values":[{"k":7}]},"mark":{"type":"rule","color":"#999999","strokeWidth":1.3},"encoding":{"y":{"field":"k","type":"quantitative","scale":{"domain":[0,20]},"axis":{"values":[0,2.5,5,7.5,10,12.5,15,17.5,20],"format":".1f","title":"Altitude (km)"}}}},
  {"data":{"name":"d"},"transform":[{"filter":"datum.p==='b' && datum.t==='H'"}],"mark":{"type":"line","strokeDash":[5,3],"strokeWidth":1.5,"clip":true,"interpolate":"catmull-rom"},
   "encoding":{
    "x":{"field":"v","type":"quantitative","scale":{"domain":[-0.5,1.5]},"axis":{"values":[-0.5,0,0.5,1,1.5],"format":".1f","title":["Averaging kernel","(molec.cm⁻²/molec. cm⁻²)"]}},
    "y":{"field":"a","type":"quantitative","scale":{"domain":[0,20]},"axis":{"values":[0,2.5,5,7.5,10,12.5,15,17.5,20],"format":".1f","title":"Altitude (km)"}},
    "color":{"field":"s","type":"nominal"},
    "order":{"field":"a","type":"quantitative"}}},
  {"data":{"name":"d"},"transform":[{"filter":"datum.p==='b' && datum.t==='T'"}],"mark":{"type":"line","strokeWidth":1.5,"clip":true,"interpolate":"catmull-rom"},
   "encoding":{"x":{"field":"v","type":"quantitative","scale":{"domain":[-0.5,1.5]}},"y":{"field":"a","type":"quantitative","scale":{"domain":[0,20]}},"color":{"field":"s","type":"nominal"},"order":{"field":"a","type":"quantitative"}}},
  {"data":{"name":"d"},"transform":[{"filter":"datum.p==='b' && datum.t==='L'"}],"mark":{"type":"line","strokeWidth":2.8,"clip":true,"point":{"filled":true,"size":36,"clip":true}},
   "encoding":{"x":{"field":"v","type":"quantitative","scale":{"domain":[-0.5,1.5]}},"y":{"field":"a","type":"quantitative","scale":{"domain":[0,20]}},"color":{"field":"s","type":"nominal"},"order":{"field":"a","type":"quantitative"}}},
  {"data":{"values":[{"lab":"(b)"}]},"mark":{"type":"text","align":"left","baseline":"alphabetic","dy":-17,"dx":-1,"fontSize":18,"color":"#000000"},"encoding":{"x":{"datum":-0.5,"type":"quantitative","scale":{"domain":[-0.5,1.5]}},"y":{"datum":20,"type":"quantitative","scale":{"domain":[0,20]}},"text":{"field":"lab"}}},
  {"data":{"values":[{"lab":"CO"}]},"mark":{"type":"text","align":"center","baseline":"alphabetic","dy":-7,"fontSize":21,"fontWeight":"bold","color":"#000000"},"encoding":{"x":{"datum":0.5,"type":"quantitative","scale":{"domain":[-0.5,1.5]}},"y":{"datum":20,"type":"quantitative","scale":{"domain":[0,20]}},"text":{"field":"lab"}}}
 ]},
{"width":240,"height":426,
 "layer":[
  {"data":{"values":[{"k":7}]},"mark":{"type":"rule","color":"#999999","strokeWidth":1.3},"encoding":{"y":{"field":"k","type":"quantitative","scale":{"domain":[0,20]},"axis":{"values":[0,2.5,5,7.5,10,12.5,15,17.5,20],"format":".1f","title":"Altitude (km)"}}}},
  {"data":{"name":"d"},"transform":[{"filter":"datum.p==='c' && datum.t==='H'"}],"mark":{"type":"line","strokeDash":[5,3],"strokeWidth":1.5,"clip":true,"interpolate":"catmull-rom"},
   "encoding":{
    "x":{"field":"v","type":"quantitative","scale":{"domain":[-0.5,1.5]},"axis":{"values":[-0.5,0,0.5,1,1.5],"format":".1f","title":["Averaging kernel","(molec.cm⁻²/molec. cm⁻²)"]}},
    "y":{"field":"a","type":"quantitative","scale":{"domain":[0,20]},"axis":{"values":[0,2.5,5,7.5,10,12.5,15,17.5,20],"format":".1f","title":"Altitude (km)"}},
    "color":{"field":"s","type":"nominal"},
    "order":{"field":"a","type":"quantitative"}}},
  {"data":{"name":"d"},"transform":[{"filter":"datum.p==='c' && datum.t==='T'"}],"mark":{"type":"line","strokeWidth":1.5,"clip":true,"interpolate":"catmull-rom"},
   "encoding":{"x":{"field":"v","type":"quantitative","scale":{"domain":[-0.5,1.5]}},"y":{"field":"a","type":"quantitative","scale":{"domain":[0,20]}},"color":{"field":"s","type":"nominal"},"order":{"field":"a","type":"quantitative"}}},
  {"data":{"name":"d"},"transform":[{"filter":"datum.p==='c' && datum.t==='L'"}],"mark":{"type":"line","strokeWidth":2.8,"clip":true,"point":{"filled":true,"size":36,"clip":true}},
   "encoding":{"x":{"field":"v","type":"quantitative","scale":{"domain":[-0.5,1.5]}},"y":{"field":"a","type":"quantitative","scale":{"domain":[0,20]}},"color":{"field":"s","type":"nominal"},"order":{"field":"a","type":"quantitative"}}},
  {"data":{"values":[{"lab":"(c)"}]},"mark":{"type":"text","align":"left","baseline":"alphabetic","dy":-17,"dx":-1,"fontSize":18,"color":"#000000"},"encoding":{"x":{"datum":-0.5,"type":"quantitative","scale":{"domain":[-0.5,1.5]}},"y":{"datum":20,"type":"quantitative","scale":{"domain":[0,20]}},"text":{"field":"lab"}}},
  {"data":{"values":[{"lab":"O₃"}]},"mark":{"type":"text","align":"center","baseline":"alphabetic","dy":-7,"fontSize":21,"fontWeight":"bold","color":"#000000"},"encoding":{"x":{"datum":0.5,"type":"quantitative","scale":{"domain":[-0.5,1.5]}},"y":{"datum":20,"type":"quantitative","scale":{"domain":[0,20]}},"text":{"field":"lab"}}}
 ]}
]
}
